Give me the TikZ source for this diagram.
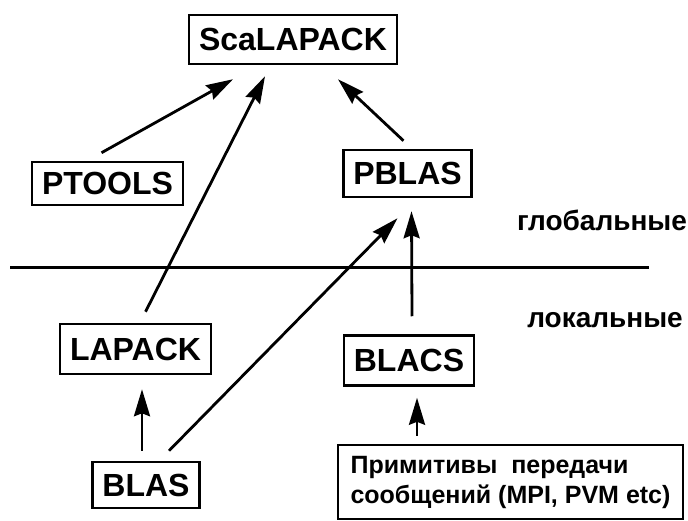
\documentclass[tikz,border=0pt]{standalone}
\usepackage{fontspec}
\setmainfont{Liberation Sans}
\usetikzlibrary{arrows.meta}

\newcommand{\boxfont}{\fontsize{32}{38}\selectfont\bfseries}
\newcommand{\lblfont}{\fontsize{28}{34}\selectfont\bfseries}
\newcommand{\primfont}{\fontsize{25}{30}\selectfont\bfseries}

\begin{document}
\begin{tikzpicture}[
          x=1pt, y=-1pt,
          box/.style={draw, line width=2.5pt, font=\boxfont, minimum height=47pt, inner xsep=10pt, inner ysep=0pt},
          lbl/.style={font=\lblfont, inner sep=0pt},
          arr/.style={-{Stealth[length=27pt, width=16pt, inset=3pt]}, line width=2.8pt},
        ]
        \useasboundingbox (0,0) rectangle (688,521);

        % global level
        \node[box, minimum height=49pt] (scalapack) at (293,39.5) {ScaLAPACK};
        \node[box, minimum height=43pt] (ptools) at (107.5,183.5) {PTOOLS};
        \node[box] (pblas) at (407.5,173.5) {PBLAS};
        \node[lbl] (global) at (602,220) {глобальные};

        % border between levels
        \draw[line width=3pt] (10,268) -- (649,268);

        % local level
        \node[lbl] (local) at (605,320) {локальные};
        \node[box, minimum height=50pt] (lapack) at (135.5,349) {LAPACK};
        \node[box, minimum height=50pt] (blacs) at (409,360.5) {BLACS};
        \node[box, minimum height=46pt] (blas) at (146,485) {BLAS};
        \node[draw, line width=2.5pt, font=\primfont, align=left, inner xsep=9pt,
              minimum width=345pt, minimum height=74pt] (prim) at (510.5,482)
              {Примитивы~~передачи\\сообщений (MPI, PVM etc)};

        \draw[arr] ([xshift=-6pt, yshift=8pt]ptools.north) -- ([xshift=-60pt, yshift=-14pt]scalapack.south);
        \draw[arr] ([xshift=10pt, yshift=11pt]lapack.north) -- ([xshift=-28pt, yshift=-11pt]scalapack.south);
        \draw[arr] ([xshift=-4pt, yshift=8pt]pblas.north) -- ([xshift=45pt, yshift=-14pt]scalapack.south);
        \draw[arr] ([xshift=23pt, yshift=10pt]blas.north) -- ([xshift=-10pt, yshift=-20pt]pblas.south);
        \draw[arr] ([xshift=3pt, yshift=18pt]blacs.north) -- ([xshift=4pt, yshift=-13pt]pblas.south);
        \draw[arr] ([xshift=-4pt, yshift=10pt]blas.north) -- ([xshift=6.5pt, yshift=-14pt]lapack.south);
        \draw[arr] ([xshift=-93.5pt, yshift=8pt]prim.north) -- ([xshift=8pt, yshift=-11pt]blacs.south);
\end{tikzpicture}
\end{document}
